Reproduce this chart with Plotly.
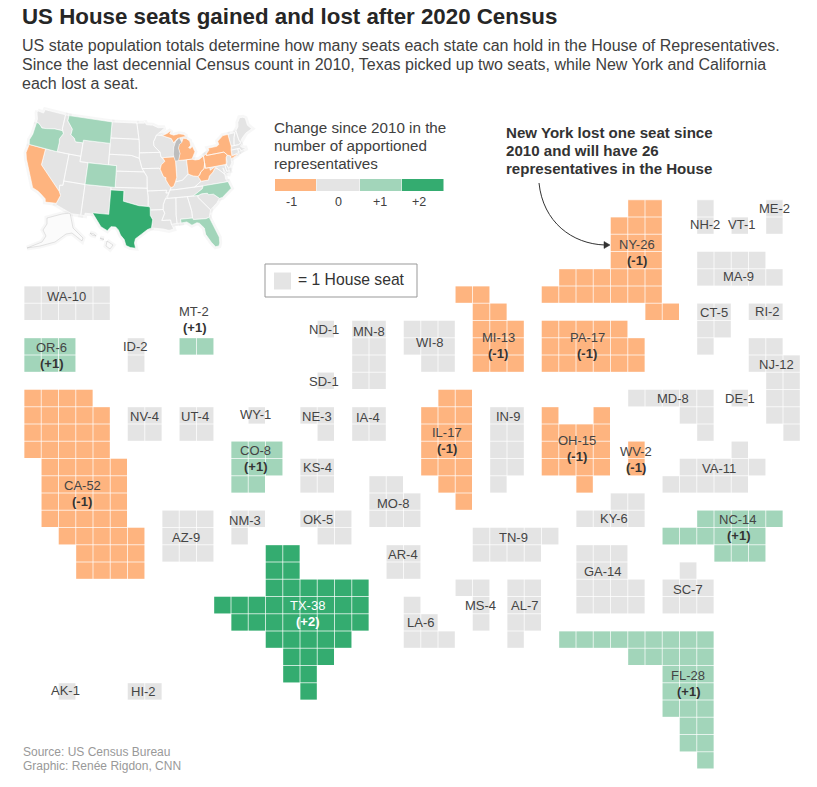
import math
import numpy as np
import plotly.graph_objects as go

# ---------- data ----------
STATES = ["WA","OR","CA","ID","NV","MT","UT","AZ","WY","CO","NM","ND","SD","NE","KS","OK","TX","MN","IA","MO","AR","LA",
          "WI","IL","MI","IN","OH","KY","TN","MS","AL","WV","PA","NY","MD","DE","VA","NC","SC","GA","FL","NH","VT","ME",
          "MA","CT","RI","NJ","AK","HI"]
SEATS = [10,6,52,2,4,2,4,9,1,8,3,1,1,3,4,5,38,8,4,8,4,6,8,17,13,9,15,6,9,4,7,2,17,26,8,1,11,14,7,14,28,2,1,2,9,5,2,12,1,2]
CHANGE = [0,1,-1,0,0,1,0,0,0,1,0,0,0,0,0,0,2,0,0,0,0,0,0,-1,-1,0,-1,0,0,0,0,-1,-1,-1,0,0,0,1,0,0,1,0,0,0,0,0,0,0,0,0]

# tile runs per state: (row, first column, last column)
TILES = {
 "WA":[(0,0,4),(1,0,4)], "OR":[(3,0,2),(4,0,2)],
 "CA":[(6,0,3),(7,0,4),(8,0,4),(9,0,4),(10,1,5),(11,1,5),(12,1,5),(13,1,5),(14,2,6),(15,3,6),(16,3,6)],
 "ID":[(3,6,6),(4,6,6)], "NV":[(7,6,7),(8,6,7)], "MT":[(3,9,10)], "UT":[(7,9,10),(8,9,10)],
 "AZ":[(13,8,10),(14,8,10),(15,8,10)], "WY":[(7,13,13)], "CO":[(9,12,14),(10,12,14),(11,12,13)],
 "NM":[(13,12,13),(14,12,12)], "ND":[(2,17,17)], "SD":[(5,17,17)], "NE":[(7,16,17),(8,17,17)],
 "KS":[(10,16,17),(11,16,17)], "OK":[(13,16,18),(14,17,18)],
 "TX":[(15,14,15),(16,14,15),(17,14,19),(18,11,19),(19,12,19),(20,14,18),(21,15,17),(22,15,16),(23,16,16)],
 "MN":[(2,19,20),(3,19,20),(4,19,20),(5,19,20)], "IA":[(7,19,20),(8,19,20)],
 "MO":[(11,20,21),(12,20,22),(13,20,22)], "AR":[(15,21,22),(16,21,22)], "LA":[(18,22,22),(19,22,23),(20,22,24)],
 "WI":[(2,22,24),(3,22,24),(4,23,24)],
 "IL":[(6,24,25),(7,23,25),(8,23,25),(9,23,25),(10,23,25),(11,24,25),(12,25,25)],
 "MI":[(0,25,26),(1,26,27),(2,26,28),(3,26,28),(4,26,28)],
 "IN":[(7,27,28),(8,27,28),(9,27,28),(10,27,28),(11,27,27)],
 "OH":[(7,30,30),(7,33,33),(8,30,33),(9,30,33),(10,30,33),(11,32,32)],
 "KY":[(12,34,35),(13,32,35)], "TN":[(14,26,30),(15,26,29)], "MS":[(17,25,26),(18,26,26),(19,26,26)],
 "AL":[(17,28,29),(18,28,29),(19,28,29),(20,28,28)], "WV":[(9,35,35),(10,35,35)],
 "PA":[(2,30,34),(3,30,35),(4,30,35)],
 "NY":[(-5,35,36),(-4,34,36),(-3,34,36),(-2,34,36),(-1,31,36),(0,30,36),(1,36,37)],
 "MD":[(6,35,39),(7,38,39),(8,39,39)], "DE":[(6,41,41)], "VA":[(9,41,41),(10,38,42),(11,37,41)],
 "NC":[(13,39,43),(14,37,42),(15,40,42)], "SC":[(16,38,38),(17,37,39),(18,37,39)],
 "GA":[(15,32,34),(16,32,34),(17,32,35),(18,32,35)],
 "FL":[(20,31,39),(21,35,39),(22,37,39),(23,37,39),(24,37,39),(25,38,39),(26,38,39),(27,39,39)],
 "NH":[(-5,39,39),(-4,39,39)], "VT":[(-4,41,41)], "ME":[(-5,43,43),(-4,43,43)],
 "MA":[(-2,39,42),(-1,39,43)], "CT":[(1,39,40),(2,39,40),(3,39,39)], "RI":[(1,42,43)],
 "NJ":[(3,42,43),(4,42,44),(5,43,44),(6,43,44),(7,43,44),(8,44,44)],
 "AK":[(23,2,2)], "HI":[(23,6,7)],
}

# tile label centres in page pixels: name line, then optional change line
LABELS = {
 "WA":(66,296),"OR":(51,347),"CA":(82,485),"ID":(135,346),"NV":(144,416),"MT":(194,311),"UT":(195,416),"AZ":(186,537),
 "WY":(255,414),"CO":(255,450),"NM":(245,520),"ND":(324,329),"SD":(324,381),"NE":(317,416),"KS":(317,467),"OK":(318,519),
 "TX":(307,605),"MN":(369,331),"IA":(368,417),"MO":(393,503),"AR":(403,554),"LA":(420,622),"WI":(429,342),"IL":(447,432),
 "MI":(498,337),"IN":(508,416),"OH":(577,440),"KY":(614,518),"TN":(513,537),"MS":(480,605),"AL":(524,605),"WV":(636,451),
 "PA":(587,337),"NY":(637,244),"MD":(673,398),"DE":(740,398),"VA":(719,468),"NC":(738,519),"SC":(688,589),"GA":(603,571),
 "FL":(688,675),"NH":(705,224),"VT":(741,224),"ME":(774,208),"MA":(738,276),"CT":(714,312),"RI":(767,311),"NJ":(776,364),
 "AK":(65,690),"HI":(143,691),
}

# inset map outlines, lon/lat
OUTLINES = {
 "WA":[(-124.7,48.4),(-123,48.3),(-122.8,49),(-117.03,49),(-117.03,46.4),(-116.9,46),(-118.98,46),(-119.3,45.93),(-121.2,45.65),(-122.3,45.55),(-122.8,45.9),(-123.5,46.25),(-124.05,46.27),(-124.1,46.9),(-124.7,48)],
 "OR":[(-124.05,46.27),(-123.5,46.25),(-122.8,45.9),(-122.3,45.55),(-121.2,45.65),(-119.3,45.93),(-118.98,46),(-116.9,46),(-116.5,45.5),(-117.2,44.4),(-117.03,43.8),(-117.03,42),(-124.2,42),(-124.5,42.85),(-124.1,44)],
 "CA":[(-124.2,42),(-120,42),(-120,39),(-114.63,35),(-114.13,34.3),(-114.72,32.72),(-117.12,32.53),(-117.3,33.1),(-118.4,33.75),(-119.2,34.15),(-120.6,34.55),(-121.9,36.6),(-122.5,37.5),(-123,38),(-123.8,39.3),(-124.35,40.4)],
 "NV":[(-120,42),(-114.04,42),(-114.04,36.2),(-114.75,36.1),(-114.63,35),(-120,39)],
 "ID":[(-117.03,49),(-116.05,49),(-116.05,48),(-114.4,46.65),(-114.5,45.55),(-113.5,45.1),(-113,44.45),(-111.05,44.5),(-111.05,42),(-117.03,42),(-117.03,43.8),(-117.2,44.4),(-116.5,45.5),(-116.9,46),(-117.03,46.4)],
 "MT":[(-116.05,49),(-104.05,49),(-104.05,45),(-111.05,45),(-111.05,44.5),(-113,44.45),(-113.5,45.1),(-114.5,45.55),(-114.4,46.65),(-116.05,48)],
 "WY":[(-111.05,45),(-104.05,45),(-104.05,41),(-111.05,41)],
 "UT":[(-114.04,42),(-111.05,42),(-111.05,41),(-109.05,41),(-109.05,37),(-114.04,37)],
 "CO":[(-109.05,41),(-102.05,41),(-102.05,37),(-109.05,37)],
 "AZ":[(-114.04,37),(-109.05,37),(-109.05,31.33),(-111.07,31.33),(-114.8,32.5),(-114.72,32.72),(-114.13,34.3),(-114.63,35),(-114.75,36.1),(-114.04,36.2)],
 "NM":[(-109.05,37),(-103,37),(-103.05,32),(-106.6,32),(-106.5,31.78),(-108.2,31.78),(-108.2,31.33),(-109.05,31.33)],
 "ND":[(-104.05,49),(-97.2,49),(-96.6,46),(-104.05,46)],
 "SD":[(-104.05,46),(-96.6,46),(-96.45,45.3),(-96.45,43.5),(-96.5,42.5),(-98.5,43),(-104.05,43)],
 "NE":[(-104.05,43),(-98.5,43),(-96.5,42.5),(-95.8,40.6),(-95.3,40),(-102.05,40),(-102.05,41),(-104.05,41)],
 "KS":[(-102.05,40),(-95.3,40),(-94.62,39.1),(-94.62,37),(-102.05,37)],
 "OK":[(-103,37),(-94.62,37),(-94.43,35.4),(-94.48,33.64),(-96.5,33.8),(-98,34.1),(-100,34.56),(-100,36.5),(-103,36.5)],
 "TX":[(-103,36.5),(-100,36.5),(-100,34.56),(-98,34.1),(-96.5,33.8),(-94.48,33.64),(-94.04,33.5),(-94.04,32),(-93.55,31.2),(-93.85,29.7),(-94.7,29.4),(-95.9,28.6),(-97.2,27.7),(-97.4,26.9),(-97.15,25.95),(-98.2,26.05),(-99.1,26.4),(-99.5,27.5),(-100.3,28.3),(-100.8,29.25),(-101.4,29.77),(-102.4,29.77),(-103.1,28.98),(-104.5,29.6),(-106.5,31.78),(-106.6,32),(-103.05,32)],
 "MN":[(-97.2,49),(-95.15,49),(-95.15,49.4),(-94.6,48.7),(-92.9,48.6),(-91.4,48.07),(-89.6,48),(-92,46.7),(-92.3,46.1),(-92.8,45.5),(-92.75,44.75),(-91.22,43.5),(-96.45,43.5),(-96.45,45.3),(-96.6,46)],
 "IA":[(-96.45,43.5),(-91.22,43.5),(-91.1,42.7),(-90.15,41.8),(-91.1,41.2),(-91.4,40.4),(-91.75,40.6),(-95.8,40.6),(-96.5,42.5)],
 "MO":[(-95.8,40.6),(-91.75,40.6),(-91.4,40.4),(-90.7,39),(-90.15,38.8),(-90.2,38.4),(-89.5,37.3),(-89.1,36.95),(-89.4,36.5),(-89.7,36),(-90.37,36),(-90.15,36.5),(-94.62,36.5),(-94.62,39.1),(-95.3,40)],
 "AR":[(-94.62,36.5),(-90.15,36.5),(-90.37,36),(-89.7,36),(-90.6,34.9),(-91.1,33.9),(-91.2,33),(-94.04,33),(-94.04,33.5),(-94.48,33.64),(-94.43,35.4)],
 "LA":[(-94.04,33),(-91.2,33),(-90.9,32.3),(-91.6,31),(-89.73,31),(-89.6,30.2),(-89.2,29.3),(-90.2,29.1),(-91.3,29.4),(-92.3,29.55),(-93.85,29.7),(-93.55,31.2),(-94.04,32)],
 "WI":[(-92,46.7),(-90.4,46.55),(-88.1,45.9),(-87.6,45.1),(-87,45.3),(-87.6,44.3),(-87.9,43),(-87.8,42.5),(-90.65,42.5),(-91.1,42.7),(-91.22,43.5),(-92.75,44.75),(-92.8,45.5),(-92.3,46.1)],
 "IL":[(-90.65,42.5),(-87.8,42.5),(-87.53,41.7),(-87.53,39.3),(-87.6,38.7),(-88,37.9),(-88.5,37.1),(-89.1,36.95),(-89.5,37.3),(-90.2,38.4),(-90.15,38.8),(-90.7,39),(-91.4,40.4),(-91.1,41.2),(-90.15,41.8)],
 "IN":[(-87.53,41.7),(-87.2,41.75),(-84.8,41.75),(-84.8,39.1),(-85.4,38.7),(-86.3,38.1),(-88,37.9),(-87.6,38.7),(-87.53,39.3)],
 "MI":[(-90.4,46.55),(-89,46.95),(-88,47.45),(-88.4,46.8),(-87.4,46.5),(-86,46.65),(-84.8,46.45),(-84.1,46),(-85,46),(-86.5,45.8),(-87.6,45.1),(-88.1,45.9)],
 "MI2":[(-86.8,41.76),(-86.25,43),(-86.5,44),(-86.2,44.7),(-85.5,45),(-85,45.75),(-84.2,45.6),(-83.4,45.1),(-83.3,44.3),(-83.9,43.9),(-83.5,43.7),(-82.9,44.05),(-82.45,43),(-83.1,42.2),(-83.45,41.73),(-84.8,41.75)],
 "OH":[(-84.8,41.75),(-83.45,41.73),(-82.7,41.5),(-81.7,41.5),(-80.52,42),(-80.52,40.64),(-80.85,39.7),(-81.75,39.2),(-82.2,38.6),(-82.6,38.45),(-83.7,38.65),(-84.8,39.1)],
 "KY":[(-89.4,36.5),(-89.1,36.95),(-88.5,37.1),(-88,37.9),(-86.3,38.1),(-85.4,38.7),(-84.8,39.1),(-83.7,38.65),(-82.6,38.45),(-82,37.5),(-83.7,36.6),(-88.05,36.5)],
 "TN":[(-90.15,35),(-89.7,36),(-89.4,36.5),(-88.05,36.5),(-83.7,36.6),(-81.7,36.6),(-82,36.1),(-84.3,35)],
 "MS":[(-90.15,35),(-88.2,35),(-88.45,31.9),(-88.4,30.3),(-89.6,30.2),(-89.73,31),(-91.6,31),(-90.9,32.3),(-91.2,33),(-91.1,33.9),(-90.6,34.9)],
 "AL":[(-88.2,35),(-85.6,35),(-85,32.3),(-85,31),(-87.6,31),(-87.5,30.3),(-88.4,30.3),(-88.45,31.9)],
 "GA":[(-85.6,35),(-83.1,35),(-83.3,34.7),(-81.4,32.6),(-80.9,32.05),(-81.45,30.72),(-82.2,30.57),(-84.86,30.7),(-85,31),(-85,32.3)],
 "FL":[(-87.6,31),(-85,31),(-84.86,30.7),(-82.2,30.57),(-81.45,30.72),(-81,29.5),(-80.5,28.2),(-80.05,26.8),(-80.15,25.7),(-80.4,25.2),(-81.1,25.15),(-81.8,26.1),(-82.7,27.7),(-82.8,28.9),(-83.7,29.9),(-84.2,30.05),(-85.3,29.7),(-86.3,30.4),(-87.5,30.3)],
 "SC":[(-83.1,35),(-82.3,35.2),(-81,35.15),(-80.8,34.85),(-79.7,34.8),(-78.55,33.85),(-79.3,33.1),(-80.9,32.05),(-81.4,32.6),(-83.3,34.7)],
 "NC":[(-84.3,35),(-82,36.1),(-81.7,36.6),(-75.9,36.55),(-75.5,35.25),(-76.5,34.7),(-77.9,33.9),(-78.55,33.85),(-79.7,34.8),(-80.8,34.85),(-81,35.15),(-82.3,35.2),(-83.1,35)],
 "VA":[(-83.7,36.6),(-82,37.5),(-80.3,37.5),(-79.9,38.2),(-78.9,38.8),(-78.35,39.4),(-77.75,39.3),(-77.1,38.8),(-76.3,38),(-76.3,37),(-75.9,36.55),(-81.7,36.6)],
 "WV":[(-82.6,38.45),(-82.2,38.6),(-81.75,39.2),(-80.85,39.7),(-80.52,40.64),(-80.52,39.72),(-79.48,39.72),(-79.48,39.2),(-78.35,39.63),(-77.75,39.3),(-78.35,39.4),(-78.9,38.8),(-79.9,38.2),(-80.3,37.5),(-82,37.5)],
 "MD":[(-79.48,39.72),(-75.79,39.72),(-75.7,38.46),(-75.05,38.45),(-75.4,37.95),(-76,38.2),(-76.4,39.2),(-76.3,38),(-77.1,38.8),(-77.75,39.3),(-78.35,39.63),(-79.48,39.2)],
 "DE":[(-75.79,39.72),(-75.4,39.8),(-75.05,38.45),(-75.7,38.46)],
 "PA":[(-80.52,42),(-79.76,42.27),(-79.76,42),(-75.35,42),(-74.7,41.35),(-75.1,40.95),(-75.4,39.8),(-75.79,39.72),(-80.52,39.72)],
 "NY":[(-79.76,42),(-79.76,42.27),(-78.9,42.9),(-79.05,43.27),(-76.8,43.3),(-76.2,43.55),(-76.3,44.2),(-75,44.95),(-74.7,45),(-73.35,45),(-73.35,43.6),(-73.25,42.75),(-73.5,42.05),(-73.5,41.3),(-73.65,41),(-72,41.05),(-73.8,40.55),(-74,40.7),(-73.9,41),(-74.7,41.35),(-75.35,42)],
 "NJ":[(-74.7,41.35),(-73.9,41),(-74,40.45),(-74.1,39.75),(-74.9,38.95),(-75.5,39.5),(-75.1,40.2),(-75.1,40.95)],
 "CT":[(-73.5,42.05),(-71.8,42.02),(-71.85,41.32),(-73.65,41),(-73.5,41.3)],
 "RI":[(-71.8,42.02),(-71.38,42.02),(-71.15,41.5),(-71.85,41.32)],
 "MA":[(-73.25,42.75),(-71.3,42.7),(-70.85,42.85),(-70.6,42.65),(-71,42.3),(-70.6,41.95),(-70,41.8),(-70,41.65),(-71.15,41.5),(-71.38,42.02),(-71.8,42.02),(-73.5,42.05)],
 "VT":[(-73.35,45),(-71.5,45),(-72.05,44.1),(-72.45,43.1),(-72.45,42.73),(-73.25,42.75),(-73.35,43.6)],
 "NH":[(-71.5,45),(-71.1,45.3),(-70.98,43.4),(-70.7,43.07),(-70.85,42.85),(-71.3,42.7),(-72.45,42.73),(-72.45,43.1),(-72.05,44.1)],
 "ME":[(-71.1,45.3),(-70.3,45.9),(-70,46.7),(-69.2,47.45),(-68.3,47.35),(-67.8,47.05),(-67.8,45.7),(-67,44.85),(-68.8,44.4),(-70.2,43.6),(-70.7,43.07),(-70.98,43.4)],
}
LAKE = [(-87.6,44.3),(-87,45.3),(-86,45.9),(-85.5,45),(-86.2,44.7),(-86.5,44),(-86.25,43),(-86.8,41.76),(-87.2,41.75),(-87.53,41.7),(-87.8,42.5),(-87.9,43)]
AK_PX = [(62,214),(70,213),(73,228),(83,238),(82,241),(72,233),(66,234),(55,242),(40,246),(27,248),(42,242),(46,236),(43,230),(47,224),(47,218)]
HI_PX = [(90,233),(94,234),(96,236),(92,235)], [(100,238),(104,239),(103,240)], [(107,241),(113,245),(110,249),(106,246)]

TITLE = "US House seats gained and lost after 2020 Census"
SUBTITLE = ["US state population totals determine how many seats each state can hold in the House of Representatives.",
            "Since the last decennial Census count in 2010, Texas picked up two seats, while New York and California",
            "each lost a seat."]
KEY_TITLE = ["Change since 2010 in the","number of apportioned","representatives"]
KEY_LABELS = ["-1","0","+1","+2"]
NOTE = ["New York lost one seat since","2010 and will have 26","representatives in the House"]
SOURCE = ["Source: US Census Bureau","Graphic: Renée Rigdon, CNN"]

COLORS = {-1:"#FEB47F",0:"#E4E4E4",1:"#A2D5BA",2:"#34AC70"}
W,H = 817,787
FONT = "Liberation Sans"
PITCH = 17.25
X0,Y0 = 24.0,286.0

# ---------- tiles ----------
chg = dict(zip(STATES,CHANGE)); seats = dict(zip(STATES,SEATS))
xs,ys,zs,hov = [],[],[],[]
for s in STATES:
    n=0
    for r,c0,c1 in TILES[s]:
        for c in range(c0,c1+1):
            xs.append(c);ys.append(r);zs.append(chg[s]);n+=1
            hov.append(f"{s}-{seats[s]} ({chg[s]:+d})" if chg[s] else f"{s}-{seats[s]}")
    assert n==seats[s],s

fig = go.Figure()
scale=[[0,COLORS[-1]],[.25,COLORS[-1]],[.25,COLORS[0]],[.5,COLORS[0]],[.5,COLORS[1]],[.75,COLORS[1]],[.75,COLORS[2]],[1,COLORS[2]]]
fig.add_trace(go.Heatmap(x=xs,y=ys,z=zs,text=hov,hoverinfo="text",zmin=-1.5,zmax=2.5,colorscale=scale,showscale=False,hoverongaps=False))

# thin pale rules between tiles, on the same grid axes
gx,gy=[],[]
for c in range(0,47):
    gx+=[c-0.5,c-0.5,None]; gy+=[-5.5,28.5,None]
for r in range(-6,30):
    gx+=[-0.5,45.5,None]; gy+=[r-0.5,r-0.5,None]
fig.add_trace(go.Scatter(x=gx,y=gy,mode="lines",line=dict(color="rgba(255,255,255,0.72)",width=1),hoverinfo="skip",showlegend=False))

# ---------- inset map ----------
def albers(lon,lat,lon0=-96,lat0=37.5,p1=29.5,p2=45.5):
    r=math.radians
    n=(math.sin(r(p1))+math.sin(r(p2)))/2
    C=math.cos(r(p1))**2+2*n*math.sin(r(p1))
    rho=lambda la: math.sqrt(C-2*n*math.sin(r(la)))/n
    th=n*r(lon-lon0)
    return rho(lat)*math.sin(th), rho(lat0)-rho(lat)*math.cos(th)
ctrl=[((-124.7,48.4),(38,114)),((-97.15,25.95),(135,248)),((-80.6,25.15),(218,247)),((-67,44.85),(252,125))]
pa=np.array([albers(*c[0]) for c in ctrl]); pb=np.array([c[1] for c in ctrl],float)
sx,tx=np.polyfit(pa[:,0],pb[:,0],1); sy,ty=np.polyfit(pa[:,1],pb[:,1],1)
def proj(lon,lat):
    a,b=albers(lon,lat); return sx*a+tx, sy*b+ty

def polys(items,color,lw=0.7,lc="white",fill=True):
    X,Y=[],[]
    for pts in items:
        for p in pts+[pts[0]]:
            X.append(p[0]);Y.append(p[1])
        X.append(None);Y.append(None)
    fig.add_trace(go.Scatter(x=X,y=Y,xaxis="x2",yaxis="y2",mode="lines",fill="toself" if fill else None,fillcolor=color,
                             line=dict(color=lc,width=lw),hoverinfo="skip",showlegend=False))
proj_out={k:[proj(*p) for p in v] for k,v in OUTLINES.items()}
allpts=list(proj_out.values())
polys(allpts+[list(AK_PX)]+[list(p) for p in HI_PX],"rgba(0,0,0,0)",lw=5,lc="rgba(0,0,0,0.03)",fill=False)
polys([list(AK_PX)]+[list(p) for p in HI_PX],"#FBFBFB",lw=1,lc="rgba(170,170,170,0.3)")
for ch in [0,-1,1,2]:
    items=[v for k,v in proj_out.items() if chg[k[:2]]==ch]
    polys(items,COLORS[ch],lw=0.6)
polys([[proj(*p) for p in LAKE]],"#BDBDBD",lw=0.3)

# ---------- axes ----------
xr=[-0.5-X0/PITCH,(W-X0)/PITCH-0.5]
yr=[(H-Y0)/PITCH-0.5,-0.5-Y0/PITCH]
hidden=dict(visible=False,showgrid=False,zeroline=False,fixedrange=True)
fig.update_layout(width=W,height=H,margin=dict(l=0,r=0,t=0,b=0),paper_bgcolor="white",plot_bgcolor="white",showlegend=False,
    xaxis=dict(range=xr,domain=[0,1],**hidden),yaxis=dict(range=yr,domain=[0,1],**hidden),
    xaxis2=dict(range=[0,W],domain=[0,1],overlaying="x",anchor="y2",**hidden),
    yaxis2=dict(range=[H,0],domain=[0,1],overlaying="y",anchor="x2",**hidden),
    font=dict(family=FONT))

anns=[]
def txt(x,y,t,size,color="#444444",bold=False,anchor="center"):
    if bold: t=f"<b>{t}</b>"
    if anchor=="left": x-=2
    anns.append(dict(x=x,y=y,xref="x2",yref="y2",text=t,showarrow=False,xanchor=anchor,yanchor="middle",
                     font=dict(family=FONT,size=size,color=color)))
txt(22,16,TITLE,22.3,"#262626",True,"left")
for i,l in enumerate(SUBTITLE): txt(22,45+19*i,l,16,"#404040",False,"left")
for i,l in enumerate(KEY_TITLE): txt(274,127+18*i,l,15.2,"#404040",False,"left")
for x,l in zip([291,338,380,419],KEY_LABELS): txt(x,202,l,12.5,"#404040")
for i,l in enumerate(NOTE): txt(506,132+18*i,l,15.1,"#333333",True,"left")
txt(298,279,"= 1 House seat",15.7,"#333333",False,"left")
for i,l in enumerate(SOURCE): txt(23,752+14*i,l,12,"#999999",False,"left")
for s in STATES:
    x,y=LABELS[s]; c="white" if chg[s]==2 else "#444444"
    txt(x,y,f"{s}-{seats[s]}",13,c)
    if chg[s]:
        txt(x,y+16.5,f"({chg[s]:+d})",13,"white" if chg[s]==2 else "#333333",True)
fig.update_layout(annotations=anns)

# ---------- key, seat box, arrow ----------
shapes=[]
def rect(x0,y0,x1,y1,fill,line=None,lw=0):
    shapes.append(dict(type="rect",xref="x2",yref="y2",x0=x0,y0=y0,x1=x1,y1=y1,fillcolor=fill,line=dict(color=line or fill,width=lw)))
edges=[275,316.5,360,402,444]
for a,b,k in zip(edges[:-1],edges[1:],[-1,0,1,2]):
    rect(a,179,b-0.5,191,COLORS[k])
rect(265,264,417,297,"white","#999999",1)
rect(274,272.5,291,289.5,COLORS[0])
shapes.append(dict(type="path",xref="x2",yref="y2",path="M 539,183 C 543,222 572,244 605,245",line=dict(color="#333333",width=1)))
shapes.append(dict(type="path",xref="x2",yref="y2",path="M 610,245 L 604,241.5 L 604,248.5 Z",fillcolor="#333333",line=dict(color="#333333",width=0.5)))
fig.update_layout(shapes=shapes)

fig.write_html("out.html",config=dict(displayModeBar=False),post_script="document.body.style.margin='0';")
